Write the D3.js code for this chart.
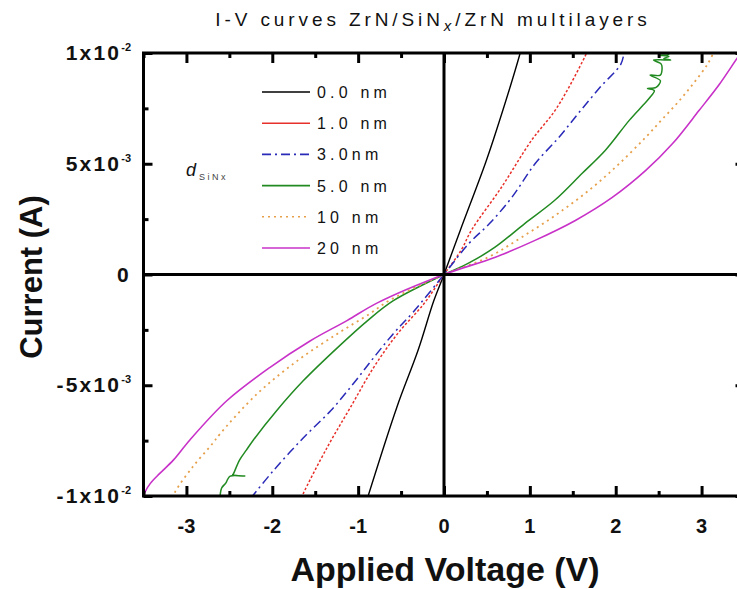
<!DOCTYPE html>
<html><head><meta charset="utf-8">
<script src="https://cdn.jsdelivr.net/npm/d3@7"></script>
<style>
body{margin:0;background:#fff;}
svg{display:block;font-family:Arial,"Liberation Sans",sans-serif;}
</style>
</head><body>
<svg id="chart" width="737" height="589"></svg>
<script>
// ---------- data (voltage in V, current in mA) ----------
const seriesLabels = ["0.0 nm","1.0 nm","3.0nm","5.0 nm","10 nm","20 nm"];

const volt_0nm = [-0.90,-0.55,-0.30,-0.12,0,0.19,0.48,0.61,0.88,0.90];
const curr_0nm = [-10.2,-6.0,-3.4,-1.2,0,2.0,5.0,6.5,9.9,10.2];

const volt_1nm = [-1.66,-1.64,-1.36,-1.09,-0.82,-0.54,-0.23,0,0.20,0.32,0.67,1.02,1.31,1.64,1.67];
const curr_1nm = [-10.1,-9.9,-7.8,-6.0,-4.2,-2.67,-1.3,0,1.1,2.0,3.94,6.06,7.5,9.83,10.1];

const volt_3nm = [-2.25,-2.23,-1.99,-1.64,-1.32,-1.05,-0.82,-0.59,-0.36,0,0.29,0.53,0.79,1.06,1.34,1.57,1.82,2.06,2.10];
const curr_3nm = [-10.1,-10.0,-8.87,-7.38,-6.15,-4.9,-3.76,-2.67,-1.7,0,1.4,2.3,3.48,5.0,6.2,7.3,8.46,9.5,10.1];

const volt_5nm = [-2.61,-2.59,-2.54,-2.52,-2.49,-2.32,-2.46,-2.45,-2.38,-2.30,-2.22,-1.95,-1.64,-1.24,-0.89,-0.59,0,0.28,0.59,0.94,1.29,1.61,1.88,2.16,2.32,2.40,2.45,2.37,2.47,2.52,2.40,2.52,2.54,2.53,2.44,2.64,2.56,2.62,2.50,2.62,2.57];
const curr_5nm = [-10.1,-9.64,-9.41,-9.25,-9.1,-9.1,-9.05,-8.98,-8.37,-7.92,-7.47,-6.15,-4.8,-3.3,-2.08,-1.18,0,0.5,1.22,2.3,3.35,4.57,5.61,6.97,7.65,8.0,8.3,8.4,8.45,8.75,9.0,9.0,9.3,9.5,9.68,9.68,9.75,9.85,9.9,9.95,10.1];

const volt_10nm = [-3.16,-3.13,-2.93,-2.70,-2.61,-2.18,-1.71,-1.24,-0.86,-0.64,0,0.51,0.90,1.33,1.72,2.04,2.35,2.54,2.73,2.90,3.07,3.15];
const curr_10nm = [-10.1,-9.8,-8.7,-7.65,-7.2,-5.4,-3.9,-2.67,-1.76,-1.18,0,0.77,1.67,2.76,3.9,5.0,6.2,7.0,7.8,8.6,9.5,10.1];

const volt_20nm = [-3.50,-3.48,-3.42,-3.31,-3.15,-2.96,-2.53,-2.03,-1.56,-1.13,-0.77,0,0.59,1.06,1.53,1.96,2.35,2.66,2.97,3.21,3.43,3.48];
const curr_20nm = [-10.0,-9.8,-9.43,-8.98,-8.37,-7.47,-5.7,-4.2,-3.0,-2.08,-1.27,0,0.77,1.54,2.44,3.48,4.7,5.9,7.4,8.6,9.85,10.1];

const xTickValues = [-3,-2,-1,0,1,2,3];
const xTickLabels = ["-3","-2","-1","0","1","2","3"];
const xMinorValues = [-3.5,-2.5,-1.5,-0.5,0.5,1.5,2.5,3.5];
const yTickValues = [-10,-5,0,5,10];
const yTickBase = ["-1x10","-5x10","0","5x10","1x10"];
const yTickExp  = ["-2","-3","","-3","-2"];
const yMinorValues = [-7.5,-2.5,2.5,7.5];

// ---------- styles ----------
const colors = ["#000000","#e8302a","#2a2ab8","#218a21","#e6a04a","#c832c8"];
const dashes = [null,"2.5,2","9,4,2,4",null,"2,4",null];
const legendDashes = [null,null,"9,4,2,4",null,"2,4",null];
const widths = [1.4,1.5,1.5,1.5,1.8,1.6];

const svg = d3.select("#chart");
const x = d3.scaleLinear().domain([-3.5,3.5]).range([143.5,744.5]);
const y = d3.scaleLinear().domain([-10,10]).range([496,53]);

const series = [
  [volt_0nm,curr_0nm],[volt_1nm,curr_1nm],[volt_3nm,curr_3nm],
  [volt_5nm,curr_5nm],[volt_10nm,curr_10nm],[volt_20nm,curr_20nm]
].map(([v,c],i)=>({label:seriesLabels[i],pts:v.map((d,k)=>[d,c[k]])}));

svg.append("defs").append("clipPath").attr("id","clip")
  .append("rect").attr("x",x(-3.5)).attr("y",y(10)).attr("width",x(3.5)-x(-3.5)).attr("height",y(-10)-y(10));

// curves
const line = d3.line().x(d=>x(d[0])).y(d=>y(d[1])).curve(d3.curveCatmullRom.alpha(0.5));
const gc = svg.append("g").attr("clip-path","url(#clip)");
series.forEach((s,i)=>{
  gc.append("path").attr("d",line(s.pts)).attr("fill","none")
    .attr("stroke",colors[i]).attr("stroke-width",widths[i])
    .attr("stroke-dasharray",dashes[i]);
});

// zero axes
svg.append("line").attr("x1",x(-3.5)).attr("x2",x(3.5)).attr("y1",y(0)).attr("y2",y(0))
  .attr("stroke","#000").attr("stroke-width",3);
svg.append("line").attr("x1",x(0)).attr("x2",x(0)).attr("y1",y(10)).attr("y2",y(-10))
  .attr("stroke","#000").attr("stroke-width",3);

// ticks (inward) on all four sides
function tickAxis(axis, transform){
  const g = svg.append("g").attr("transform",transform).call(axis);
  g.select(".domain").remove();
  g.selectAll(".tick line").attr("stroke","#000").attr("stroke-width",3);
  g.selectAll(".tick text").remove();
}
tickAxis(d3.axisBottom(x).tickValues(xTickValues).tickSize(-10),`translate(0,${y(-10)})`);
tickAxis(d3.axisBottom(x).tickValues(xMinorValues).tickSize(-5),`translate(0,${y(-10)})`);
tickAxis(d3.axisTop(x).tickValues(xTickValues).tickSize(-10),`translate(0,${y(10)})`);
tickAxis(d3.axisTop(x).tickValues(xMinorValues).tickSize(-5),`translate(0,${y(10)})`);
tickAxis(d3.axisLeft(y).tickValues(yTickValues).tickSize(-9),`translate(${x(-3.5)},0)`);
tickAxis(d3.axisLeft(y).tickValues(yMinorValues).tickSize(-5),`translate(${x(-3.5)},0)`);
tickAxis(d3.axisRight(y).tickValues(yTickValues).tickSize(-9),`translate(${x(3.5)},0)`);
tickAxis(d3.axisRight(y).tickValues(yMinorValues).tickSize(-5),`translate(${x(3.5)},0)`);

// frame
svg.append("rect").attr("x",x(-3.5)).attr("y",y(10)).attr("width",x(3.5)-x(-3.5)).attr("height",y(-10)-y(10))
  .attr("fill","none").attr("stroke","#000").attr("stroke-width",3);

// x tick labels
svg.append("g").selectAll("text").data(xTickValues).join("text")
  .attr("x",d=>x(d)).attr("y",533).attr("text-anchor","middle")
  .attr("font-size",20).attr("font-weight","bold").attr("fill","#111")
  .text((d,i)=>xTickLabels[i]);

// y tick labels
yTickValues.forEach((v,i)=>{
  const t = svg.append("text").attr("x",131).attr("y",y(v)+7).attr("text-anchor","end")
    .attr("font-size",21).attr("font-weight","bold").attr("fill","#111");
  t.append("tspan").attr("letter-spacing",2.2).text(yTickBase[i]);
  if (yTickExp[i]) t.append("tspan").attr("dy",-9).attr("font-size",11).text(yTickExp[i]);
});

// axis titles
svg.append("text").attr("x",445).attr("y",581).attr("text-anchor","middle")
  .attr("font-size",34).attr("font-weight","bold").attr("fill","#111").text("Applied Voltage (V)");
svg.append("text").attr("transform","translate(42,277) rotate(-90)").attr("text-anchor","middle")
  .attr("font-size",31).attr("font-weight","bold").attr("fill","#111").text("Current (A)");

// title
const title = svg.append("text").attr("x",433).attr("y",26).attr("text-anchor","middle")
  .attr("font-size",19).attr("letter-spacing",3.9).attr("fill","#111");
title.append("tspan").text("I-V curves ZrN/SiN");
title.append("tspan").attr("font-style","italic").attr("font-size",15).attr("dy",5).text("x");
title.append("tspan").attr("dy",-5).text("/ZrN multilayers");

// legend
const lg = svg.append("g");
series.forEach((s,i)=>{
  const ly = 92 + i*31.2;
  lg.append("line").attr("x1",262).attr("x2",310).attr("y1",ly).attr("y2",ly)
    .attr("stroke",colors[i]).attr("stroke-width",1.6).attr("stroke-dasharray",legendDashes[i]);
  lg.append("text").attr("x",317).attr("y",ly+6).attr("font-size",16).attr("letter-spacing",4.2)
    .attr("fill","#111").text(s.label);
});
const dl = svg.append("text").attr("x",186).attr("y",176).attr("fill","#111");
dl.append("tspan").attr("font-style","italic").attr("font-size",18).text("d");
dl.append("tspan").attr("dy",4).attr("font-size",9).attr("letter-spacing",2.5).attr("fill","#444").attr("dx",3).text("SiNx");
</script>
</body></html>
